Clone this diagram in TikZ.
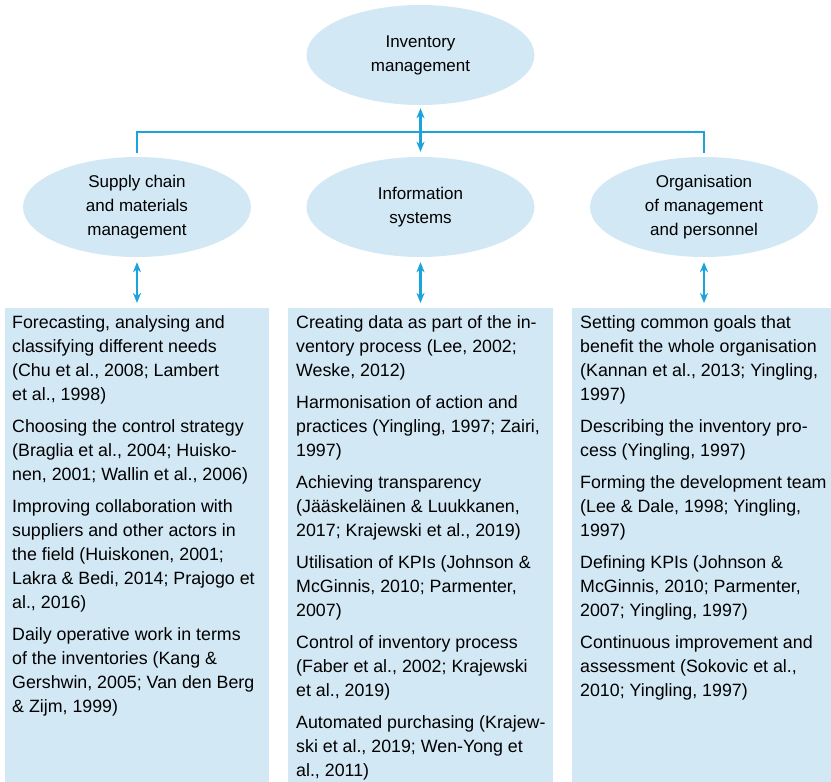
\documentclass[tikz,border=0pt]{standalone}
\usepackage{fontspec}
\setmainfont{Liberation Sans}
\usetikzlibrary{arrows.meta}
\usetikzlibrary{shapes.geometric}
\usetikzlibrary{positioning}
\definecolor{ovalfill}{HTML}{D2E8F5}
\definecolor{boxfill}{HTML}{D3E8F5}
\definecolor{linkblue}{HTML}{1BA3DC}

\tikzset{
  oval/.style={ellipse, fill=ovalfill, minimum width=228pt, minimum height=100pt, align=center, inner sep=0pt, font=\fontsize{17}{24}\selectfont},
  colbox/.style={rectangle, fill=boxfill, anchor=north west, inner sep=0pt},
  coltext/.style={anchor=north west, align=left, inner sep=0pt, font=\fontsize{17.8}{24}\selectfont},
  link/.style={draw=linkblue, line width=2.8pt},
  dblarrow/.style={link, {Stealth[length=10pt,width=8pt,inset=3pt]}-{Stealth[length=10pt,width=8pt,inset=3pt]}, shorten <=5pt, shorten >=5pt}
}

\begin{document}
\begin{tikzpicture}[x=1pt,y=1pt,yscale=-1,xscale=1]
\useasboundingbox (0,0) rectangle (831,782);

%Ellipses
\node[oval] (inv) at (420.5,55) {Inventory\\management};
\node[oval] (supply) at (137,207) {Supply chain\\and materials\\management};
\node[oval] (info) at (420.5,207) {Information\\systems};
\node[oval] (org) at (704,207) {Organisation\\of management\\and personnel};

%Column boxes
\node[colbox, minimum width=264pt, minimum height=474pt] (boxL) at (5,308) {};
\node[colbox, minimum width=265pt, minimum height=474pt] (boxM) at (288,308) {};
\node[colbox, minimum width=259pt, minimum height=474pt] (boxR) at (572,308) {};

%Bracket and arrows
\coordinate (bar) at (420.5,132);
\draw[link] ([yshift=-4pt]supply.north) |- (bar) -| ([yshift=-4pt]org.north);
\draw[dblarrow, shorten <=3pt] (inv.south) -- (info.north);
\draw[dblarrow] (supply.south) -- (boxL.north -| supply.south);
\draw[dblarrow] (info.south) -- (boxM.north -| info.south);
\draw[dblarrow] (org.south) -- (boxR.north -| org.south);

% Text Node
\node[coltext] (txtL) at ([xshift=7pt,yshift=7.5pt]boxL.north west) {%
Forecasting, analysing and\\
classifying different needs\\
(Chu et al., 2008; Lambert\\
et al., 1998)\\[8pt]
Choosing the control strategy\\
(Braglia et al., 2004; Huisko-\\
nen, 2001; Wallin et al., 2006)\\[8pt]
Improving collaboration with\\
suppliers and other actors in\\
the field (Huiskonen, 2001;\\
Lakra \& Bedi, 2014; Prajogo et\\
al., 2016)\\[8pt]
Daily operative work in terms\\
of the inventories (Kang \&\\
Gershwin, 2005; Van den Berg\\
\& Zijm, 1999)};

% Text Node
\node[coltext] (txtM) at ([xshift=8pt,yshift=7.5pt]boxM.north west) {%
Creating data as part of the in-\\
ventory process (Lee, 2002;\\
Weske, 2012)\\[8pt]
Harmonisation of action and\\
practices (Yingling, 1997; Zairi,\\
1997)\\[8pt]
Achieving transparency\\
(Jääskeläinen \& Luukkanen,\\
2017; Krajewski et al., 2019)\\[8pt]
Utilisation of KPIs (Johnson \&\\
McGinnis, 2010; Parmenter,\\
2007)\\[8pt]
Control of inventory process\\
(Faber et al., 2002; Krajewski\\
et al., 2019)\\[8pt]
Automated purchasing (Krajew-\\
ski et al., 2019; Wen-Yong et\\
al., 2011)};

% Text Node
\node[coltext] (txtR) at ([xshift=8pt,yshift=7.5pt]boxR.north west) {%
Setting common goals that\\
benefit the whole organisation\\
(Kannan et al., 2013; Yingling,\\
1997)\\[8pt]
Describing the inventory pro-\\
cess (Yingling, 1997)\\[8pt]
Forming the development team\\
(Lee \& Dale, 1998; Yingling,\\
1997)\\[8pt]
Defining KPIs (Johnson \&\\
McGinnis, 2010; Parmenter,\\
2007; Yingling, 1997)\\[8pt]
Continuous improvement and\\
assessment (Sokovic et al.,\\
2010; Yingling, 1997)};

\end{tikzpicture}
\end{document}
